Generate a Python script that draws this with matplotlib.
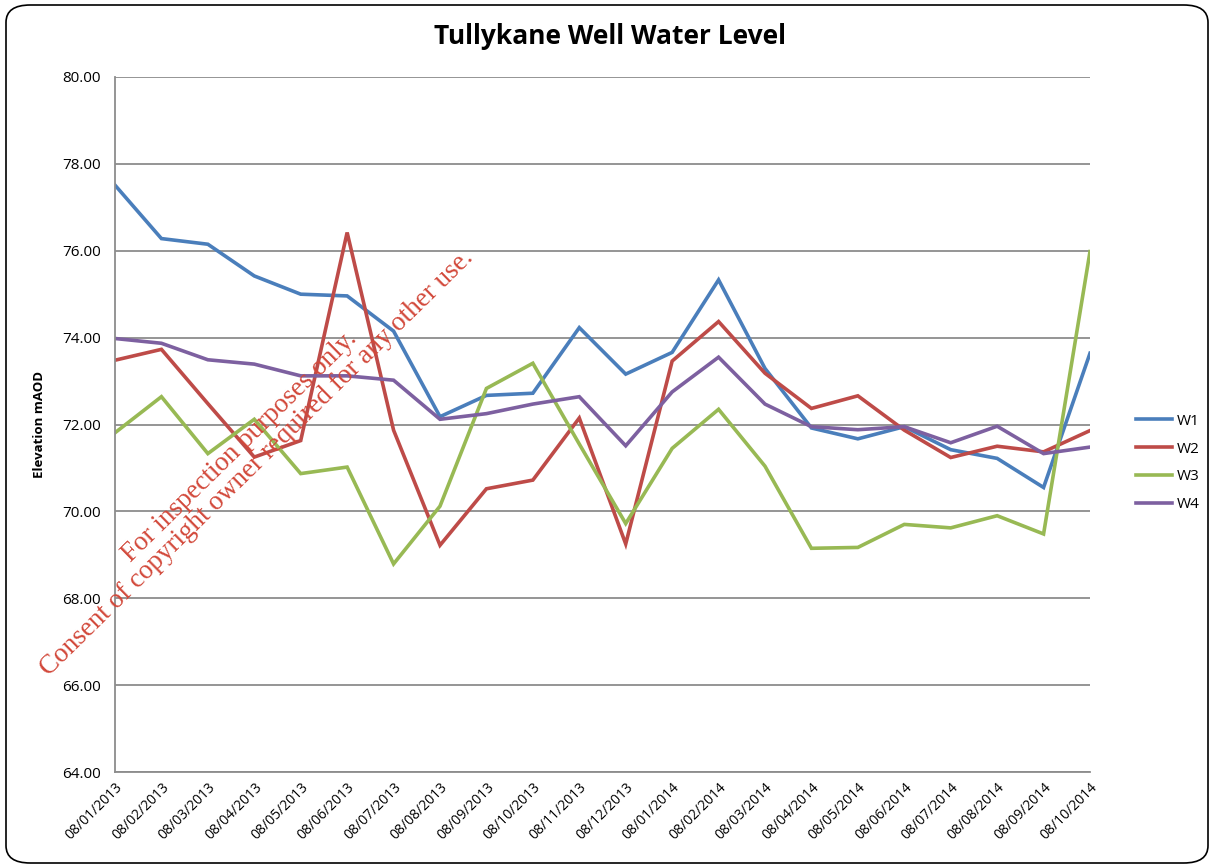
import matplotlib
matplotlib.use("Agg")
import matplotlib.pyplot as plt
from matplotlib.patches import FancyBboxPatch

dates = ["08/01/2013", "08/02/2013", "08/03/2013", "08/04/2013", "08/05/2013",
         "08/06/2013", "08/07/2013", "08/08/2013", "08/09/2013", "08/10/2013",
         "08/11/2013", "08/12/2013", "08/01/2014", "08/02/2014", "08/03/2014",
         "08/04/2014", "08/05/2014", "08/06/2014", "08/07/2014", "08/08/2014",
         "08/09/2014", "08/10/2014"]

w1 = [77.51, 76.28, 76.15, 75.42, 75.00, 74.96, 74.15, 72.18, 72.67, 72.72,
      74.23, 73.16, 73.66, 75.33, 73.29, 71.92, 71.67, 71.95, 71.42, 71.22,
      70.55, 73.64]
w2 = [73.48, 73.73, 72.48, 71.25, 71.63, 76.42, 71.87, 69.22, 70.52, 70.72,
      72.15, 69.25, 73.46, 74.37, 73.18, 72.37, 72.66, 71.87, 71.24, 71.50,
      71.37, 71.86]
w3 = [71.81, 72.64, 71.33, 72.12, 70.87, 71.02, 68.79, 70.12, 72.83, 73.41,
      71.55, 69.72, 71.45, 72.35, 71.04, 69.15, 69.17, 69.70, 69.62, 69.90,
      69.48, 75.98]
w4 = [73.98, 73.87, 73.49, 73.39, 73.12, 73.12, 73.02, 72.12, 72.25, 72.47,
      72.64, 71.51, 72.75, 73.55, 72.47, 71.95, 71.88, 71.95, 71.58, 71.96,
      71.33, 71.48]

series_names = ["W1", "W2", "W3", "W4"]
colors = ["#4A7EBB", "#BE4B48", "#98B954", "#7D60A0"]
yticks = [64, 66, 68, 70, 72, 74, 76, 78, 80]

plt.rcParams['font.family'] = ['Open Sans', 'DejaVu Sans']

fig = plt.figure(figsize=(12.14, 8.67), dpi=100)
W, H = 1214, 867

# rounded border
border = FancyBboxPatch((6 / W, 4 / H), (1202 / W), (858 / H),
                        boxstyle="round,pad=0,rounding_size=0.02",
                        transform=fig.transFigure, fill=False,
                        edgecolor="black", linewidth=1.2)
fig.patches.append(border)

ax = fig.add_axes([115 / W, 1 - 772 / H, (1090 - 115) / W, (772 - 77) / H])
x = list(range(len(dates)))
for name, vals, c in zip(series_names, [w1, w2, w3, w4], colors):
    ax.plot(x, vals, color=c, linewidth=2.6, label=name, solid_joinstyle='miter')

ax.set_xlim(0, len(dates) - 1)
ax.set_ylim(64, 80)
ax.set_yticks(yticks)
ax.set_yticklabels([f"{v:.2f}" for v in yticks], fontsize=11)
ax.set_xticks(x)
ax.set_xticklabels(dates, rotation=45, ha='right', rotation_mode='anchor', fontsize=10)
ax.tick_params(axis='both', length=0, pad=10)
ax.tick_params(axis='x', pad=6)
ax.grid(axis='y', color='#8C8C8C', linewidth=1.3)
ax.set_axisbelow(True)
for s in ['top', 'right']:
    ax.spines[s].set_visible(False)
for s in ['left', 'bottom']:
    ax.spines[s].set_color('#8C8C8C')
    ax.spines[s].set_linewidth(1.3)

ax.set_ylabel("Elevation mAOD", fontsize=9.5, fontweight='bold', labelpad=12)

fig.text(610 / W, 1 - 37 / H, "Tullykane Well Water Level", ha='center', va='center',
         fontsize=19, fontweight='bold')

leg = ax.legend(loc='center left', bbox_to_anchor=(1122 / W, 1 - 463 / H),
                bbox_transform=fig.transFigure, frameon=False, fontsize=11,
                handlelength=2.4, labelspacing=0.85, handletextpad=0.3)

fig.text(248 / W, 1 - 455 / H,
         "For inspection purposes only.\nConsent of copyright owner required for any other use.",
         rotation=44.5, rotation_mode='anchor', ha='center', va='center',
         multialignment='center', family=['Liberation Serif', 'DejaVu Serif'],
         fontsize=19.5, color='#D2483A', linespacing=0.95)

fig.savefig("out.png", dpi=100)
